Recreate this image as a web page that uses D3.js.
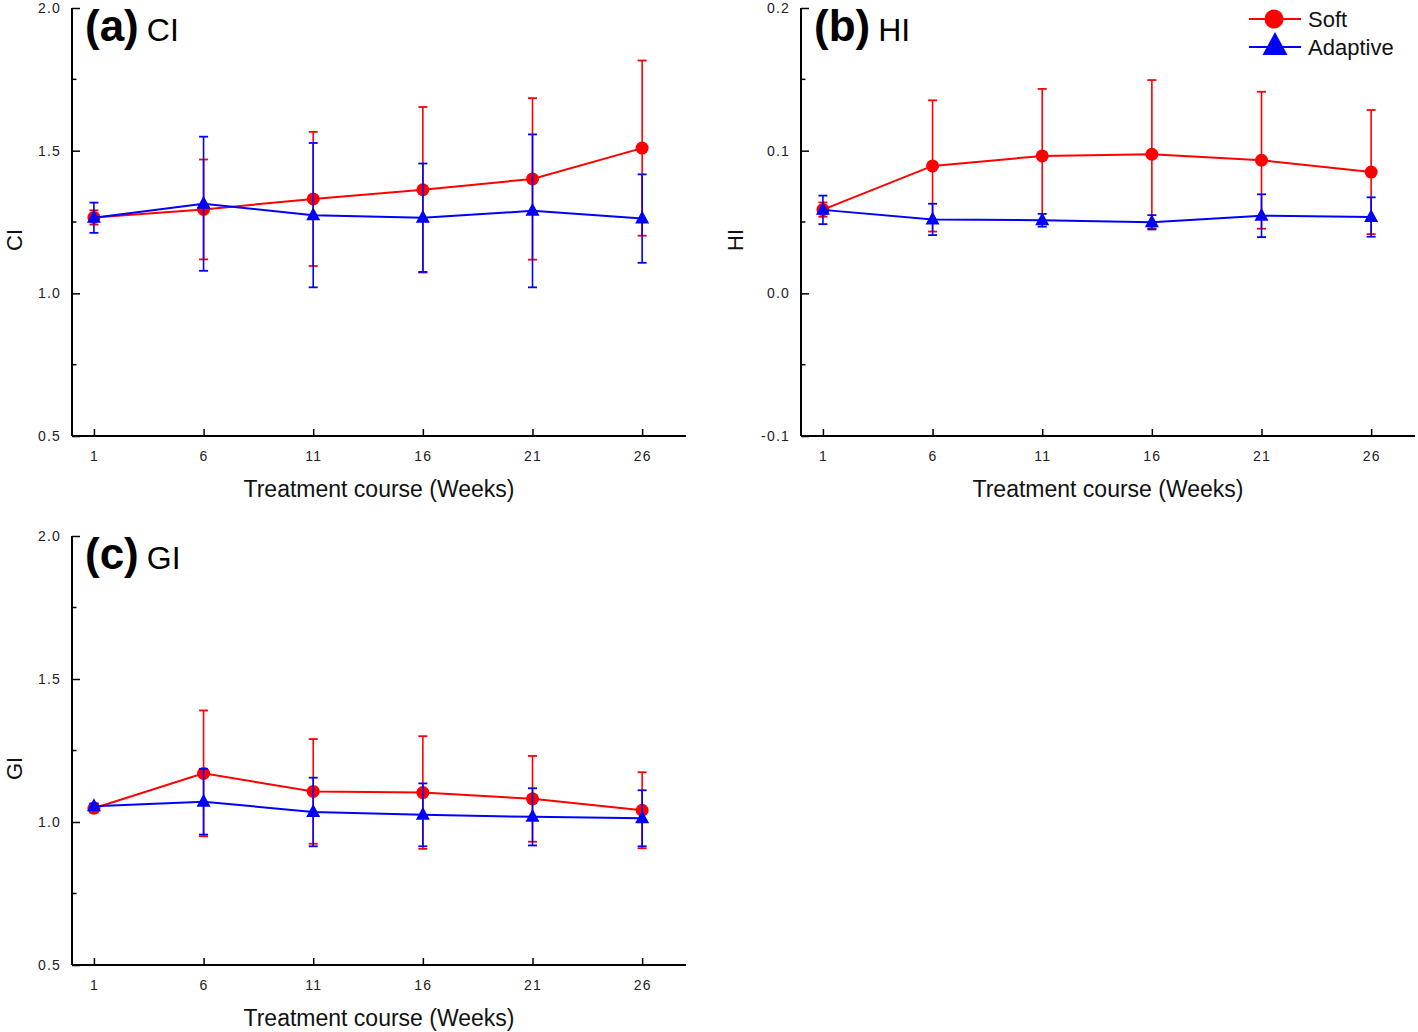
<!DOCTYPE html>
<html>
<head>
<meta charset="utf-8">
<script src="https://cdn.jsdelivr.net/npm/d3@7"></script>
<style>
  html, body { margin: 0; padding: 0; background: #fff; }
  svg { display: block; font-family: Arial, "Liberation Sans", sans-serif; }
</style>
</head>
<body>
<svg id="chart" width="1418" height="1032"></svg>
<script>
// ---- Data ----
const weeks = [1, 6, 11, 16, 21, 26];
const seriesNames = ["Soft", "Adaptive"];

const ciSoft        = [1.266, 1.294, 1.331, 1.363, 1.401, 1.509];
const ciSoftErr     = [0.025, 0.175, 0.235, 0.290, 0.283, 0.307];
const ciAdaptive    = [1.265, 1.314, 1.274, 1.265, 1.289, 1.262];
const ciAdaptiveErr = [0.053, 0.235, 0.253, 0.190, 0.268, 0.155];

const hiSoft        = [0.0587, 0.0893, 0.0963, 0.0975, 0.0933, 0.0850];
const hiSoftErr     = [0.0050, 0.0460, 0.0470, 0.0520, 0.0480, 0.0435];
const hiAdaptive    = [0.0585, 0.0518, 0.0512, 0.0498, 0.0544, 0.0535];
const hiAdaptiveErr = [0.0100, 0.0110, 0.0045, 0.0050, 0.0150, 0.0138];

const giSoft        = [1.048, 1.170, 1.107, 1.103, 1.081, 1.041];
const giSoftErr     = [0.015, 0.220, 0.183, 0.197, 0.150, 0.133];
const giAdaptive    = [1.055, 1.071, 1.035, 1.025, 1.018, 1.013];
const giAdaptiveErr = [0.010, 0.115, 0.120, 0.110, 0.100, 0.098];

const ciTicks = [0.5, 1.0, 1.5, 2.0];
const hiTicks = [-0.1, 0.0, 0.1, 0.2];
const giTicks = [0.5, 1.0, 1.5, 2.0];

const xTitle = "Treatment course (Weeks)";

// ---- Drawing ----
const svg = d3.select("#chart");
const RED = "#ff0000", BLUE = "#0000ff";

function trianglePath(w, up, down) {
  return `M0,${-up}L${w/2},${down}L${-w/2},${down}Z`;
}

function panel(opt) {
  const {left, top, width, height, yDomain, yTicks, fmt, letter, name, yLabel, yLabelX, soft, softErr, adap, adapErr} = opt;
  const g = svg.append("g").attr("transform", `translate(${left},${top})`);
  const x = d3.scaleLinear().domain([0, 28]).range([0, width]);
  const y = d3.scaleLinear().domain(yDomain).range([height, 0]);

  // minor y ticks (midpoints)
  const step = yTicks[1] - yTicks[0];
  const minor = yTicks.slice(0, -1).map(t => t + step / 2);
  g.append("g").selectAll("line").data(minor).join("line")
    .attr("x1", 0).attr("x2", 4.5)
    .attr("y1", d => y(d)).attr("y2", d => y(d))
    .attr("stroke", "#000").attr("stroke-width", 1.5);

  // y axis (ticks inward)
  const yAxis = g.append("g").call(
    d3.axisRight(y).tickValues(yTicks).tickSize(8).tickSizeOuter(0).tickFormat(fmt));
  yAxis.select(".domain").attr("stroke-width", 2).attr("d", `M0,0V${height}`);
  yAxis.selectAll(".tick line").attr("stroke-width", 1.5);
  yAxis.selectAll(".tick text")
    .attr("x", -11).attr("text-anchor", "end")
    .attr("font-size", 14).attr("fill", "#222")
    .attr("letter-spacing", 1.2)
    .attr("font-family", "Arial, 'Liberation Sans', sans-serif");

  // x axis (ticks inward)
  const xAxis = g.append("g").attr("transform", `translate(0,${height})`).call(
    d3.axisTop(x).tickValues(weeks).tickSize(7).tickSizeOuter(0).tickFormat(d3.format("d")));
  xAxis.select(".domain").attr("stroke-width", 2).attr("d", `M0,0H${width}`);
  xAxis.selectAll(".tick line").attr("stroke-width", 1.5);
  xAxis.selectAll(".tick text")
    .attr("y", 25).attr("dy", 0)
    .attr("font-size", 14).attr("fill", "#222")
    .attr("letter-spacing", 1.2)
    .attr("font-family", "Arial, 'Liberation Sans', sans-serif");

  // titles
  g.append("text").attr("x", width / 2).attr("y", height + 61)
    .attr("text-anchor", "middle").attr("font-size", 23).attr("fill", "#111")
    .text(xTitle);
  g.append("text")
    .attr("transform", `translate(${yLabelX - left},${height / 2 + 18}) rotate(-90)`)
    .attr("text-anchor", "middle").attr("dominant-baseline", "central")
    .attr("font-size", 22).attr("fill", "#111")
    .text(yLabel);

  const lab = g.append("text").attr("x", 13).attr("y", 33).attr("fill", "#000");
  lab.append("tspan").attr("font-size", 44).attr("font-weight", "bold").text(`(${letter})`);
  lab.append("tspan").attr("font-size", 32).attr("dx", 8).text(name);

  const series = [
    {vals: soft, err: softErr, color: RED, kind: "circle"},
    {vals: adap, err: adapErr, color: BLUE, kind: "tri"}
  ];
  const line = d3.line().x((d, i) => x(weeks[i])).y(d => y(d));

  series.forEach(s => {
    const sg = g.append("g");
    const pts = s.vals.map((v, i) => ({w: weeks[i], v, e: s.err[i]}));
    // error bars
    sg.selectAll("line.eb").data(pts).join("line").attr("class", "eb")
      .attr("x1", d => x(d.w)).attr("x2", d => x(d.w))
      .attr("y1", d => y(d.v - d.e)).attr("y2", d => y(d.v + d.e))
      .attr("stroke", s.color).attr("stroke-width", 1.6);
    ["lo", "hi"].forEach(k => {
      sg.selectAll(`line.cap${k}`).data(pts).join("line").attr("class", `cap${k}`)
        .attr("x1", d => x(d.w) - 4.5).attr("x2", d => x(d.w) + 4.5)
        .attr("y1", d => y(k === "lo" ? d.v - d.e : d.v + d.e))
        .attr("y2", d => y(k === "lo" ? d.v - d.e : d.v + d.e))
        .attr("stroke", s.color).attr("stroke-width", 1.8);
    });
    // line
    sg.append("path").datum(s.vals).attr("d", line)
      .attr("fill", "none").attr("stroke", s.color).attr("stroke-width", 2);
    // markers
    if (s.kind === "circle") {
      sg.selectAll("circle").data(pts).join("circle")
        .attr("cx", d => x(d.w)).attr("cy", d => y(d.v)).attr("r", 6.5)
        .attr("fill", s.color);
    } else {
      sg.selectAll("path.tri").data(pts).join("path").attr("class", "tri")
        .attr("transform", d => `translate(${x(d.w)},${y(d.v)})`)
        .attr("d", trianglePath(14, 8, 5)).attr("fill", s.color);
    }
  });
  return g;
}

const fmt1 = d => d3.format(".1f")(d).replace("\u2212", "-");

panel({left: 72, top: 8, width: 614, height: 428, yDomain: [0.5, 2.0], yTicks: ciTicks, fmt: fmt1,
  letter: "a", name: "CI", yLabel: "CI", yLabelX: 14,
  soft: ciSoft, softErr: ciSoftErr, adap: ciAdaptive, adapErr: ciAdaptiveErr});
panel({left: 801, top: 8, width: 614, height: 428, yDomain: [-0.1, 0.2], yTicks: hiTicks, fmt: fmt1,
  letter: "b", name: "HI", yLabel: "HI", yLabelX: 735,
  soft: hiSoft, softErr: hiSoftErr, adap: hiAdaptive, adapErr: hiAdaptiveErr});
panel({left: 72, top: 536, width: 614, height: 429, yDomain: [0.5, 2.0], yTicks: giTicks, fmt: fmt1,
  letter: "c", name: "GI", yLabel: "GI", yLabelX: 14,
  soft: giSoft, softErr: giSoftErr, adap: giAdaptive, adapErr: giAdaptiveErr});

// ---- Legend ----
const lg = svg.append("g").attr("transform", "translate(1249,0)");
const legendItems = [
  {name: seriesNames[0], color: RED, kind: "circle", y: 19},
  {name: seriesNames[1], color: BLUE, kind: "tri", y: 47}
];
legendItems.forEach(it => {
  lg.append("line").attr("x1", 0).attr("x2", 52).attr("y1", it.y).attr("y2", it.y)
    .attr("stroke", it.color).attr("stroke-width", 2);
  if (it.kind === "circle") {
    lg.append("circle").attr("cx", 25).attr("cy", it.y).attr("r", 9.5).attr("fill", it.color);
  } else {
    lg.append("path").attr("transform", `translate(26,${it.y})`)
      .attr("d", trianglePath(25, 15, 8)).attr("fill", it.color);
  }
  lg.append("text").attr("x", 59).attr("y", it.y + 8).attr("font-size", 22).attr("fill", "#111")
    .text(it.name);
});
</script>
</body>
</html>
